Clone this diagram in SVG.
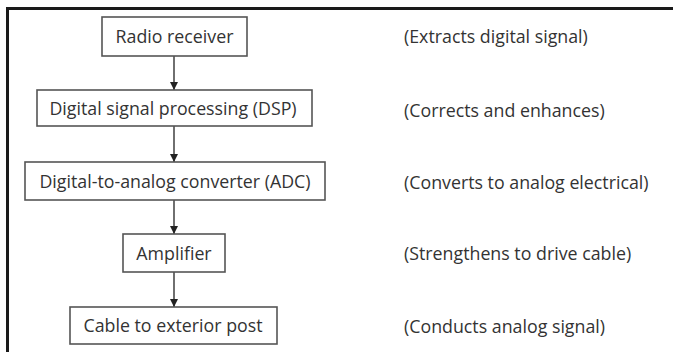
<svg xmlns="http://www.w3.org/2000/svg" width="673" height="352" viewBox="0 0 673 352">
<style>
  .box{fill:#fff;stroke:#555;stroke-width:1.6}
  .t{font-family:"Open Sans","Noto Sans",sans-serif;font-size:17.8px;fill:#333;dominant-baseline:central}
  .c{text-anchor:middle}
  .conn line{stroke:#333;stroke-width:1.4}
</style>
<defs>
  <marker id="ah" markerWidth="8" markerHeight="8" refX="8" refY="4" orient="auto" markerUnits="userSpaceOnUse">
    <path d="M0,0 L8,4 L0,8 Z" fill="#222"/>
  </marker>
</defs>
<rect width="673" height="352" fill="#fff"/>
<path d="M7.5,360 V8.5 H680" fill="none" stroke="#1a1a1a" stroke-width="3"/>
<g class="conn">
  <line x1="174" y1="56" x2="174" y2="90" marker-end="url(#ah)"/>
  <line x1="174" y1="126" x2="174" y2="162" marker-end="url(#ah)"/>
  <line x1="174" y1="200" x2="174" y2="234" marker-end="url(#ah)"/>
  <line x1="174" y1="272" x2="174" y2="307" marker-end="url(#ah)"/>
</g>
<g id="n1"><rect class="box" x="102" y="17" width="145" height="39"/><text class="t c" x="174.5" y="36">Radio receiver</text></g>
<g id="n2"><rect class="box" x="37" y="90" width="275" height="36"/><text class="t c" x="173" y="107.5">Digital signal processing (DSP)</text></g>
<g id="n3"><rect class="box" x="25" y="162" width="300" height="38"/><text class="t c" x="175" y="180.5">Digital-to-analog converter (ADC)</text></g>
<g id="n4"><rect class="box" x="123" y="234" width="102" height="38"/><text class="t c" x="174" y="252.5">Amplifier</text></g>
<g id="n5"><rect class="box" x="70" y="307" width="207" height="37"/><text class="t c" x="173" y="325">Cable to exterior post</text></g>
<g id="notes">
  <text class="t" x="404" y="36">(Extracts digital signal)</text>
  <text class="t" x="404" y="109.5">(Corrects and enhances)</text>
  <text class="t" x="404" y="182">(Converts to analog electrical)</text>
  <text class="t" x="404" y="252.5">(Strengthens to drive cable)</text>
  <text class="t" x="404" y="326">(Conducts analog signal)</text>
</g>
</svg>
